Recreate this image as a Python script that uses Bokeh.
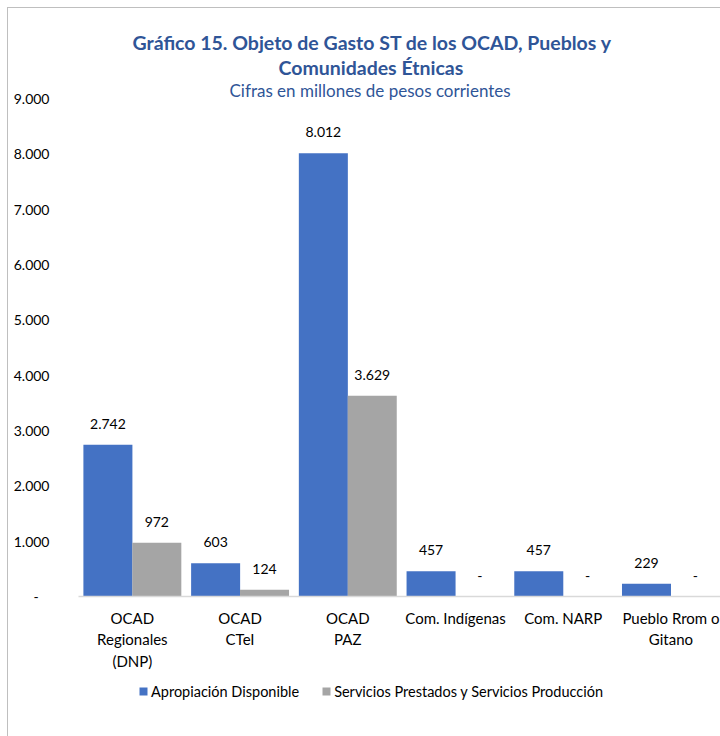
from bokeh.plotting import figure
from bokeh.layouts import column
from bokeh.models import (ColumnDataSource, Range1d, FixedTicker, Title, Legend, LegendItem)
from bokeh.core.properties import value
from bokeh.embed import file_html
from bokeh.resources import INLINE

# ---- data ----
categories = ["OCAD\nRegionales\n(DNP)", "OCAD\nCTeI", "OCAD\nPAZ", "Com. Indígenas", "Com. NARP", "Pueblo Rrom o\nGitano"]
apropiacion = [2742, 603, 8012, 457, 457, 229]
servicios = [972, 124, 3629, 0, 0, 0]
series_names = ["Apropiación Disponible", "Servicios Prestados y Servicios Producción"]
y_ticks = [0, 1000, 2000, 3000, 4000, 5000, 6000, 7000, 8000, 9000]

FONT = "Lato"
BLUE = "#4472C4"
GRAY = "#A5A5A5"
TITLE_COLOR = "#2F5597"


def fmt(v):
    if v == 0:
        return "-"
    return f"{v:,}".replace(",", ".")


idx = list(range(len(categories)))
off = 0.227
w = 0.455

src_a = ColumnDataSource(dict(x=[i - off for i in idx], top=apropiacion, lbl=[fmt(v) for v in apropiacion]))
src_s = ColumnDataSource(dict(x=[i + off for i in idx], top=servicios, lbl=[fmt(v) for v in servicios]))

p = figure(width=720, height=672, output_backend="svg", toolbar_location=None,
           x_range=Range1d(-0.5, 5.46), y_range=Range1d(0, 9000),
           min_border_left=78, min_border_right=0, min_border_top=98, min_border_bottom=76)
p.title.visible = False
p.outline_line_color = None
p.border_fill_color = None
p.xgrid.grid_line_color = None
p.ygrid.grid_line_color = None

ra = p.vbar(x="x", top="top", width=w, source=src_a, fill_color=BLUE, line_color=None)
rs = p.vbar(x="x", top="top", width=w, source=src_s, fill_color=GRAY, line_color=None)

for src in (src_a, src_s):
    p.text(x="x", y="top", text="lbl", source=src, text_align="center", text_baseline="middle",
           y_offset=-21, text_font=value(FONT), text_font_size="14px", text_color="#000000")

# x axis
p.xaxis.ticker = FixedTicker(ticks=idx)
p.xaxis.major_label_overrides = {i: c for i, c in zip(idx, categories)}
p.xaxis.axis_line_color = "#D9D9D9"
p.xaxis.axis_line_width = 1.5
p.xaxis.major_tick_line_color = None
p.xaxis.minor_tick_line_color = None
p.xaxis.major_label_text_font = FONT
p.xaxis.major_label_text_font_size = "15px"
p.xaxis.major_label_text_color = "#000000"
p.xaxis.major_label_standoff = 6

# y axis
p.yaxis.ticker = FixedTicker(ticks=y_ticks)
p.yaxis.major_label_overrides = {t: (fmt(t) if t else "-\u00a0\u00a0\u00a0") for t in y_ticks}
p.yaxis.axis_line_color = None
p.yaxis.major_tick_line_color = None
p.yaxis.minor_tick_line_color = None
p.yaxis.major_label_text_font = FONT
p.yaxis.major_label_text_font_size = "14px"
p.yaxis.major_label_text_color = "#000000"
p.yaxis.major_label_standoff = 23

# titles (first added is closest to the frame)
p.add_layout(Title(text="Cifras en millones de pesos corrientes", align="left", offset=151,
                   text_font=FONT, text_font_size="17px", text_font_style="normal",
                   text_color=TITLE_COLOR, standoff=-4), "above")
p.add_layout(Title(text="Comunidades Étnicas", align="left", offset=200,
                   text_font=FONT, text_font_size="19.5px", text_font_style="bold",
                   text_color=TITLE_COLOR, standoff=1), "above")
p.add_layout(Title(text="Gráfico 15. Objeto de Gasto ST de los OCAD, Pueblos y", align="left", offset=54,
                   text_font=FONT, text_font_size="19.5px", text_font_style="bold",
                   text_color=TITLE_COLOR, standoff=0), "above")

# legend strip (same series, zero-width and out of range so only the legend entries show)
lg = figure(width=720, height=64, output_backend="svg", toolbar_location=None,
            x_axis_location=None, y_axis_location=None, min_border=0,
            x_range=Range1d(-0.5, 5.46), y_range=Range1d(100000, 100001))
lg.title.visible = False
lg.outline_line_color = None
lg.border_fill_color = None
lg.background_fill_color = None
lg.xgrid.grid_line_color = None
lg.ygrid.grid_line_color = None
la = lg.vbar(x="x", top="top", width=0, source=src_a, fill_color=BLUE, line_color=None)
ls = lg.vbar(x="x", top="top", width=0, source=src_s, fill_color=GRAY, line_color=None)
legend = Legend(items=[LegendItem(label=series_names[0], renderers=[la]),
                       LegendItem(label=series_names[1], renderers=[ls])],
                orientation="horizontal", location=(60, 35),
                label_text_font=FONT, label_text_font_size="14.5px", label_text_color="#000000",
                glyph_width=10, glyph_height=10, label_standoff=3, spacing=22, label_height=20,
                border_line_color=None, background_fill_alpha=0, padding=0, margin=0)
lg.add_layout(legend, "center")

layout = column(p, lg, spacing=0,
                styles={"box-shadow": "inset 7px 7px 0 0 #FFFFFF, inset 8px 8px 0 0 #BFBFBF"})

open("out.html", "w").write(file_html(layout, INLINE))
